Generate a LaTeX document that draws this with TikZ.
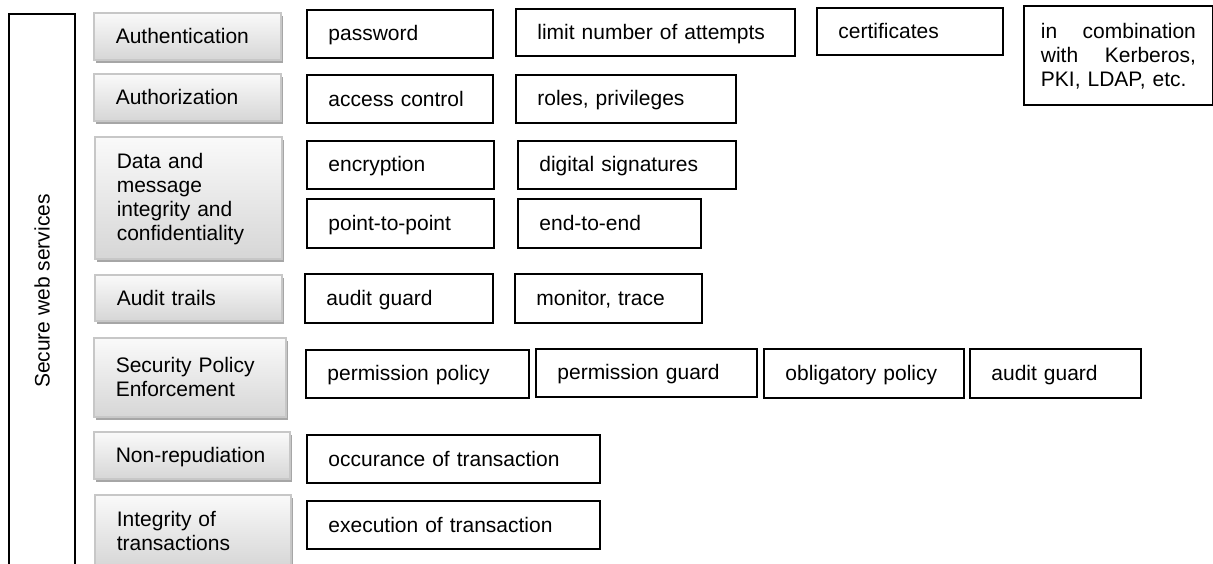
\documentclass[tikz,border=0pt]{standalone}
\usepackage{fontspec}
\setmainfont{Liberation Sans}

% invisible rule that puts the cap height in the middle of each box
\newcommand\boxstrut{\rule[-1.5pt]{0pt}{10.5pt}}

% one unit = one pixel of the layout grid, y grows downwards
\newcommand\whitebox[6]{% name, x1, y1, x2, y2, text
  \pgfmathsetmacro\bxw{(#4-#2)*0.5}%
  \pgfmathsetmacro\bxh{(#5-#3)*0.5}%
  \pgfmathsetmacro\bxt{(#4-#2)*0.5-21.5}%
  \node[wb, minimum width=\bxw pt, minimum height=\bxh pt, text width=\bxt pt] (#1) at (#2,#3) {#6};}
\newcommand\graybox[6]{% name, x1, y1, x2, y2, text
  \pgfmathsetmacro\bxw{(#4-#2)*0.5}%
  \pgfmathsetmacro\bxh{(#5-#3)*0.5}%
  \pgfmathsetmacro\bxt{(#4-#2)*0.5-22}%
  \fill[gshadow] (#2+3,#3+4) rectangle (#4+3,#5+4);
  \node[gb, minimum width=\bxw pt, minimum height=\bxh pt, text width=\bxt pt] (#1) at (#2,#3) {#6};}

\begin{document}
\begin{tikzpicture}[x=0.5pt,y=-0.5pt,
  font=\fontsize{10.5}{12}\selectfont,
  boxtext/.style={align=left, anchor=north west, inner ysep=0pt,
    execute at begin node=\boxstrut, execute at end node=\boxstrut},
  wb/.style={boxtext, rectangle, draw=black, line width=0.9pt, fill=white,
    inner xsep=10.75pt},
  gb/.style={boxtext, rectangle, draw=black!22, line width=0.8pt,
    top color=black!2, bottom color=black!16, inner xsep=11pt},
  gshadow/.style={fill=black!35}]

\useasboundingbox (0,0) rectangle (1213,563);
\clip (0,0) rectangle (1213,563);

% side frame with the vertical title
\draw[line width=1pt] (9,575) -- (9,14) -- (75,14) -- (75,575);
\node[rotate=90] (sws) at (42,291) {Secure web services};

% categories
\graybox{authn}{93}{12}{280}{59}{Authentication}
\graybox{authz}{93}{73}{280}{120}{Authorization}
\graybox{integ}{94}{136}{281}{258}{Data and\\message\\integrity and\\confidentiality}
\graybox{audit}{94}{274}{281}{320}{Audit trails}
\graybox{spe}{93}{337}{285}{416}{Security Policy\\Enforcement}
\graybox{nonrep}{93}{431}{289}{478}{Non-repudiation}
\graybox{trans}{94}{494}{290}{566}{Integrity of\\transactions}

% mechanisms
\whitebox{pw}{306}{9}{492}{57}{password}
\whitebox{lim}{515}{8}{794}{55}{limit number of attempts}
\whitebox{cert}{816}{7}{1002}{54}{certificates}
\node[wb, minimum width=94.5pt, minimum height=49.5pt, text width=77.5pt,
  inner xsep=8.5pt] (comb) at (1023,5)
  {in\hfill combination\\with\hfill Kerberos,\\PKI, LDAP, etc.};

\whitebox{acc}{306}{74}{492}{122}{access control}
\whitebox{roles}{515}{74}{735}{122}{roles, privileges}

\whitebox{enc}{306}{140}{493}{188}{encryption}
\whitebox{dig}{517}{140}{735}{188}{digital signatures}
\whitebox{ptp}{306}{198}{493}{247}{point-to-point}
\whitebox{ete}{517}{198}{700}{247}{end-to-end}

\whitebox{agone}{304}{273}{492}{322}{audit guard}
\whitebox{mon}{514}{273}{701}{322}{monitor, trace}

\whitebox{ppol}{305}{349}{528}{397}{permission policy}
\whitebox{pgrd}{535}{348}{756}{396}{permission guard}
\whitebox{opol}{763}{348}{963}{397}{obligatory policy}
\whitebox{agtwo}{969}{348}{1140}{397}{audit guard}

\whitebox{occ}{306}{434}{599}{482}{occurance of transaction}
\whitebox{exe}{306}{500}{599}{548}{execution of transaction}
\end{tikzpicture}
\end{document}
